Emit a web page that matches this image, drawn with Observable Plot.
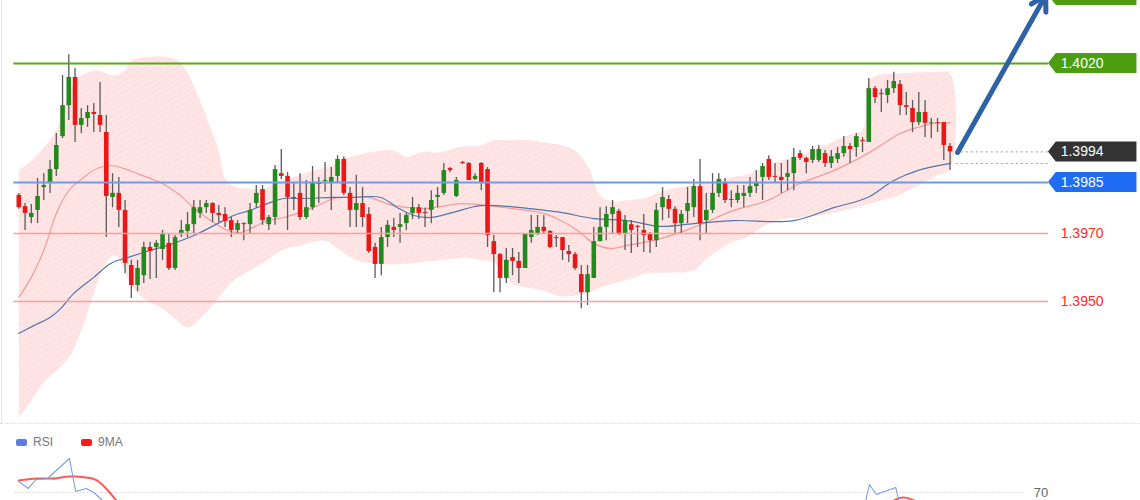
<!DOCTYPE html>
<html>
<head>
<meta charset="utf-8">
<script src="https://cdn.jsdelivr.net/npm/d3@7"></script>
<script src="https://cdn.jsdelivr.net/npm/@observablehq/plot@0.6"></script>
<style>
html, body { margin: 0; padding: 0; background: #fff; overflow: hidden; }
body { width: 1140px; height: 500px; font-family: "Liberation Sans", Arial, sans-serif; }
#main { position: relative; height: 423px; }
#main::before { content: ""; position: absolute; left: 1px; top: 0; width: 1px; height: 423px; background: #e6e6e6; z-index: 2; }
#rsiWrap { position: relative; border-top: 1px dotted #dcdcdc; }
#legend { position: absolute; left: 16px; top: 10px; height: 16px; display: flex; align-items: center; font-size: 12px; color: #777; z-index: 2; }
#legend .sw { display: inline-block; width: 11px; height: 7px; border-radius: 2px; margin-right: 6px; }
#legend .item { display: inline-flex; align-items: center; margin-right: 28px; }
svg { display: block; }
</style>
</head>
<body>
<svg width="0" height="0" style="position:absolute">
  <defs>
    <pattern id="bandHatch" width="5" height="5" patternUnits="userSpaceOnUse" patternTransform="rotate(-30)">
      <circle cx="1" cy="1" r="0.5" fill="#f6c8c8"></circle>
      <circle cx="3.5" cy="1" r="0.5" fill="#f6c8c8"></circle>
    </pattern>
  </defs>
</svg>
<div id="main"></div>
<div id="rsiWrap">
  <div id="legend">
    <span class="item"><span class="sw" style="background:#5b7fe0"></span>RSI</span>
    <span class="item"><span class="sw" style="background:#ff1a1a"></span>9MA</span>
  </div>
  <div id="rsi"></div>
</div>
<script>
// ---------------- DATA ----------------
const candleOpen = [1.39812,1.39779,1.39747,1.39768,1.39835,1.39847,1.39888,1.39985,1.40076,1.40159,
1.40018,1.40038,1.40056,1.40047,1.39997,1.39806,1.39818,1.39768,1.39606,1.39547,
1.39576,1.39659,1.39659,1.39653,1.39671,1.39597,1.39700,1.39706,1.39726,1.39759,
1.39776,1.39788,1.39759,1.39756,1.39738,1.39709,1.39729,1.39726,1.39788,1.39829,
1.39726,1.39747,1.39876,1.39868,1.39803,1.39818,1.39747,1.39776,1.39847,1.39853,
1.39847,1.39868,1.39918,1.39818,1.39768,1.39788,1.39756,1.39659,1.39609,1.39688,
1.39718,1.39718,1.39729,1.39759,1.39776,1.39762,1.39768,1.39806,1.39818,1.39891,
1.39809,1.39909,1.39906,1.39859,1.39906,1.39888,1.39676,1.39638,1.39568,1.39629,
1.39618,1.39597,1.39688,1.39700,1.39718,1.39706,1.39688,1.39688,1.39647,1.39638,
1.39579,1.39526,1.39568,1.39676,1.39718,1.39756,1.39765,1.39700,1.39726,1.39721,
1.39709,1.39697,1.39679,1.39776,1.39800,1.39771,1.39729,1.39765,1.39776,1.39838,
1.39738,1.39768,1.39818,1.39847,1.39797,1.39797,1.39809,1.39818,1.39838,1.39865,
1.39918,1.39868,1.39865,1.39865,1.39876,1.39935,1.39921,1.39915,1.39915,1.39935,
1.39906,1.39918,1.39935,1.39956,1.39953,1.39974,1.39968,1.40126,1.40112,1.40106,
1.40126,1.40138,1.40076,1.40068,1.40026,1.40056,1.40024,1.40026,1.40026,1.39956];

const candleHigh = [1.39818,1.39788,1.39785,1.39862,1.39876,1.39915,1.39994,1.40165,1.40226,1.40185,
1.40068,1.40076,1.40082,1.40144,1.40047,1.39876,1.39865,1.39797,1.39621,1.39621,
1.39674,1.39674,1.39679,1.39709,1.39697,1.39694,1.39738,1.39762,1.39797,1.39797,
1.39797,1.39791,1.39782,1.39776,1.39747,1.39738,1.39732,1.39788,1.39841,1.39841,
1.39753,1.39900,1.39947,1.39879,1.39847,1.39876,1.39856,1.39897,1.39865,1.39909,
1.39894,1.39929,1.39926,1.39835,1.39871,1.39835,1.39776,1.39671,1.39718,1.39738,
1.39744,1.39759,1.39759,1.39806,1.39785,1.39774,1.39826,1.39835,1.39906,1.39894,
1.39865,1.39912,1.39909,1.39876,1.39909,1.39894,1.39694,1.39641,1.39656,1.39656,
1.39644,1.39700,1.39753,1.39753,1.39753,1.39709,1.39694,1.39688,1.39665,1.39644,
1.39606,1.39606,1.39718,1.39776,1.39779,1.39797,1.39771,1.39753,1.39738,1.39724,
1.39756,1.39703,1.39788,1.39835,1.39812,1.39779,1.39768,1.39835,1.39859,1.39918,
1.39818,1.39876,1.39876,1.39862,1.39826,1.39841,1.39841,1.39865,1.39885,1.39906,
1.39929,1.39906,1.39906,1.39915,1.39950,1.39944,1.39924,1.39956,1.39959,1.39944,
1.39944,1.39953,1.39985,1.39965,1.39994,1.39982,1.40156,1.40132,1.40124,1.40150,
1.40174,1.40150,1.40115,1.40091,1.40115,1.40091,1.40038,1.40038,1.40026,1.39965];

const candleLow = [1.39771,1.39709,1.39729,1.39729,1.39797,1.39818,1.39868,1.39979,1.40032,1.39968,
1.39994,1.40012,1.39997,1.39997,1.39688,1.39776,1.39718,1.39582,1.39509,1.39529,
1.39553,1.39565,1.39568,1.39621,1.39591,1.39591,1.39688,1.39688,1.39700,1.39744,
1.39759,1.39732,1.39732,1.39718,1.39688,1.39700,1.39679,1.39700,1.39774,1.39724,
1.39709,1.39724,1.39859,1.39709,1.39768,1.39738,1.39741,1.39768,1.39788,1.39821,
1.39768,1.39847,1.39812,1.39718,1.39718,1.39718,1.39641,1.39568,1.39576,1.39659,
1.39688,1.39671,1.39709,1.39741,1.39741,1.39718,1.39729,1.39776,1.39812,1.39879,
1.39806,1.39903,1.39856,1.39856,1.39826,1.39659,1.39526,1.39526,1.39553,1.39576,
1.39553,1.39597,1.39671,1.39694,1.39700,1.39656,1.39659,1.39621,1.39615,1.39591,
1.39479,1.39488,1.39568,1.39676,1.39679,1.39700,1.39694,1.39650,1.39641,1.39659,
1.39644,1.39641,1.39659,1.39738,1.39744,1.39700,1.39700,1.39729,1.39747,1.39679,
1.39700,1.39759,1.39806,1.39788,1.39776,1.39788,1.39776,1.39806,1.39818,1.39797,
1.39856,1.39847,1.39818,1.39826,1.39826,1.39915,1.39876,1.39906,1.39909,1.39894,
1.39891,1.39906,1.39924,1.39906,1.39924,1.39938,1.39968,1.40082,1.40056,1.40082,
1.40112,1.40047,1.40047,1.39997,1.40018,1.39982,1.39979,1.39997,1.39915,1.39885];

const candleClose = [1.39776,1.39759,1.39759,1.39809,1.39841,1.39888,1.39959,1.40076,1.40159,1.40018,
1.40038,1.40056,1.40050,1.40018,1.39809,1.39818,1.39768,1.39612,1.39547,1.39597,
1.39659,1.39647,1.39671,1.39697,1.39597,1.39688,1.39709,1.39726,1.39776,1.39776,
1.39788,1.39759,1.39753,1.39735,1.39709,1.39729,1.39726,1.39768,1.39818,1.39738,
1.39747,1.39888,1.39868,1.39806,1.39806,1.39747,1.39776,1.39847,1.39844,1.39856,
1.39865,1.39918,1.39818,1.39768,1.39788,1.39747,1.39647,1.39609,1.39688,1.39724,
1.39709,1.39726,1.39753,1.39776,1.39759,1.39759,1.39797,1.39812,1.39885,1.39885,
1.39856,1.39906,1.39856,1.39868,1.39850,1.39694,1.39638,1.39568,1.39621,1.39618,
1.39597,1.39697,1.39709,1.39718,1.39706,1.39659,1.39685,1.39650,1.39638,1.39597,
1.39526,1.39579,1.39676,1.39718,1.39756,1.39776,1.39700,1.39738,1.39709,1.39718,
1.39694,1.39679,1.39768,1.39806,1.39771,1.39729,1.39756,1.39788,1.39838,1.39729,
1.39768,1.39818,1.39859,1.39797,1.39800,1.39818,1.39818,1.39838,1.39847,1.39897,
1.39865,1.39865,1.39856,1.39876,1.39924,1.39921,1.39909,1.39947,1.39947,1.39906,
1.39926,1.39935,1.39956,1.39947,1.39985,1.39971,1.40126,1.40100,1.40109,1.40126,
1.40147,1.40076,1.40071,1.40026,1.40056,1.40024,1.40026,1.40024,1.39959,1.39940];

// Bollinger band edges (read at candle positions)
const upperBandIdx = [1,3,5,7,8,9,11,13.5,15,16,18,19,21,25,27,30,32,33,34,35.5,38,40.5,42,45,47,50,52.5,57,61,63,66,68,72,75,77,80,82,85,88,90,92,93,94,96,98,101,104,109,113,115,118,120,123,126,129,131,134,136,137,139,142,145,148,150];
const upperBandVal = [1.39885,1.39915,1.39953,1.40003,1.40053,1.40112,1.40165,1.40179,1.40171,1.40165,1.40179,1.40209,1.40218,1.40218,1.40200,1.40091,1.39994,1.39944,1.39862,1.39838,1.39832,1.39832,1.39847,1.39865,1.39879,1.39894,1.39915,1.39938,1.39944,1.39926,1.39941,1.39938,1.39956,1.39959,1.39974,1.39974,1.39976,1.39968,1.39959,1.39944,1.39900,1.39856,1.39812,1.39794,1.39797,1.39803,1.39824,1.39844,1.39856,1.39865,1.39876,1.39891,1.39915,1.39929,1.39953,1.39968,1.39991,1.40003,1.40150,1.40168,1.40171,1.40174,1.40174,1.40171];
const lowerBandIdx = [1,3,5,7,9,11,13,14,15,16,17,19,21,24,26,28,30,33,35,38,40,43,46,50,52,55,60,65,70,73,75,77,79,80,85,88,91,93,95,98,100,101,105,109,111,113,115,117,121,124,126,131,136,139,142,145,148,150];
const lowerBandVal = [1.39159,1.39209,1.39262,1.39297,1.39335,1.39415,1.39524,1.39576,1.39615,1.39635,1.39626,1.39547,1.39509,1.39479,1.39450,1.39424,1.39450,1.39512,1.39556,1.39591,1.39612,1.39650,1.39665,1.39679,1.39656,1.39621,1.39609,1.39615,1.39624,1.39629,1.39621,1.39615,1.39571,1.39553,1.39532,1.39515,1.39521,1.39532,1.39547,1.39562,1.39574,1.39582,1.39585,1.39591,1.39626,1.39650,1.39674,1.39685,1.39729,1.39744,1.39747,1.39759,1.39782,1.39797,1.39815,1.39841,1.39871,1.39891];

// Moving averages
const fastMaIdx = [1,3,5,7,9,11.4,13.5,15.7,17.8,20,22,24,26.4,29,31.7,34.4,36.5,38.5,40.8,43.4,46,48.8,51.4,54,57,61,66.4,71.7,76,79.7,85,87.7,90.4,93,95.7,98.4,103.7,109,115.4,120.8,126,131.4,136.8,139.4,142,144.8,147.4,150];
const fastMaVal = [1.39512,1.39571,1.39650,1.39759,1.39826,1.39865,1.39891,1.39900,1.39891,1.39876,1.39862,1.39847,1.39818,1.39776,1.39738,1.39709,1.39703,1.39718,1.39738,1.39747,1.39762,1.39782,1.39803,1.39806,1.39806,1.39782,1.39774,1.39788,1.39782,1.39774,1.39759,1.39738,1.39709,1.39671,1.39656,1.39665,1.39685,1.39718,1.39768,1.39797,1.39847,1.39885,1.39935,1.39965,1.39994,1.40012,1.40024,1.40026];
const slowMaIdx = [1,3.4,6,7.7,9.8,13,15.7,18.4,22,24.8,29,32.8,35.4,38,40.8,43.4,46,51.4,54,58.9,61.6,64.2,66.9,70.5,74.9,82.4,87.7,93,98.4,103.7,109,115.4,125,131.4,136.8,141,144.8,150];
const slowMaVal = [1.39406,1.39429,1.39453,1.39479,1.39524,1.39571,1.39612,1.39629,1.39650,1.39665,1.39694,1.39729,1.39753,1.39768,1.39788,1.39803,1.39803,1.39806,1.39806,1.39806,1.39776,1.39753,1.39747,1.39762,1.39782,1.39774,1.39762,1.39744,1.39738,1.39721,1.39729,1.39738,1.39738,1.39776,1.39806,1.39856,1.39885,1.39906];

// Key levels
const levelPrices = [1.4040, 1.4020, 1.3985, 1.3970, 1.3950];
const levelRoles  = ["target", "resistance", "pivot", "support", "support"];
const levelLabels = ["", "1.4020", "1.3985", "1.3970", "1.3950"];
const closeLabel = "1.3994";

// Forecast arrow: from last close toward the target
const forecastFrom = {i: 151.2, price: 1.39938};
const forecastTo   = {i: 165.3, price: 1.4040};

// RSI panel
const rsiIdx = [1,2.5,3.8,5.6,9.1,10.1,11.8,13,14.4,15.5,135.5,136.5,137.1,138.2,141.3,141.8,142.8];
const rsiVal = [77.9,72.9,79.3,80,94.3,70.7,72.9,70,64.3,55,50,64.3,75.7,68.6,73.6,64.3,50];
const rsiMaIdx = [1,3.8,6.6,9.1,11.8,13.5,16.6,18,139.5,141,142.4,144.2,146];
const rsiMaVal = [78.6,80,80,81.4,80.7,78.6,64.3,55,55,64.3,66.4,64.3,58];
const rsiLevel = 70;

// ---------------- BUILD ----------------
const candles = candleOpen.map((o, k) => ({i: k + 1, open: o, high: candleHigh[k], low: candleLow[k], close: candleClose[k]}));
const upper = upperBandIdx.map((i, k) => ({i, v: upperBandVal[k]}));
const lower = lowerBandIdx.map((i, k) => ({i, v: lowerBandVal[k]}));
const bandPoly = [...upper, ...lower.slice().reverse()];
const fastMa = fastMaIdx.map((i, k) => ({i, v: fastMaVal[k]}));
const slowMa = slowMaIdx.map((i, k) => ({i, v: slowMaVal[k]}));
const levels = levelPrices.map((p, k) => ({price: p, role: levelRoles[k], label: levelLabels[k]}));
const lastClose = candleClose[candleClose.length - 1];
const lastSlow = slowMaVal[slowMaVal.length - 1];

const X_DOMAIN = [-1.928, 180.472];
const LINE_X1 = 0.2, LINE_X2 = 165.75;
const TIP_X = 165.75, BOX_X1 = 167.0, BOX_X2 = 179.9, TEXT_X = 167.7;
const HALF = 10 / 34000;   // half label height in price units

const roleColor = {target: "#56aa16", resistance: "#56aa16", pivot: "#6a9cf2", support: "#ff9c9c"};
const roleBox = {target: "#4c9d10", resistance: "#4c9d10", pivot: "#1f6cf5"};

const boxed = levels.filter(d => roleBox[d.role]).map(d => ({...d, fill: roleBox[d.role]}));
boxed.push({price: lastClose, role: "close", label: closeLabel, fill: "#333333"});
const flagPts = [];
boxed.forEach((d, k) => {
  flagPts.push({z: k, i: TIP_X, y1: d.price, y2: d.price, fill: d.fill});
  flagPts.push({z: k, i: BOX_X1, y1: d.price - HALF, y2: d.price + HALF, fill: d.fill});
  flagPts.push({z: k, i: BOX_X2, y1: d.price - HALF, y2: d.price + HALF, fill: d.fill});
});

const up = "#228a1c", down = "#ea1717";

const main = Plot.plot({
  width: 1140, height: 423,
  marginTop: 0, marginBottom: 0, marginLeft: 0, marginRight: 0,
  x: {domain: X_DOMAIN, axis: null},
  y: {domain: [1.391412, 1.403853], axis: null},
  style: {fontFamily: "Liberation Sans, Arial, sans-serif", background: "#fff", overflow: "hidden"},
  marks: [
    Plot.line(bandPoly, {x: "i", y: "v", fill: "#ffe5e5", stroke: null, curve: "catmull-rom"}),
    Plot.line(bandPoly, {x: "i", y: "v", fill: "url(#bandHatch)", stroke: null, curve: "catmull-rom"}),
    Plot.line(fastMa, {x: "i", y: "v", stroke: "#f59a9a", strokeWidth: 1.2, curve: "catmull-rom"}),
    Plot.line(slowMa, {x: "i", y: "v", stroke: "#4f77ad", strokeWidth: 1.2, curve: "catmull-rom"}),
    Plot.ruleX(candles, {x: "i", y1: "low", y2: "high", stroke: "#5a5a5a", strokeWidth: 1.3}),
    Plot.ruleX(candles, {x: "i", y1: "open", y2: "close", stroke: d => d.close >= d.open ? up : down, strokeWidth: 4.6}),
    Plot.ruleY(levels, {y: "price", x1: LINE_X1, x2: LINE_X2, stroke: d => roleColor[d.role], strokeWidth: d => d.role === "support" ? 1.5 : 2}),
    Plot.ruleY([lastClose], {x1: 151, x2: LINE_X2, stroke: "#9a9a9a", strokeDasharray: "2,3"}),
    Plot.ruleY([lastSlow], {x1: 151, x2: LINE_X2, stroke: "#7f9fe0", strokeDasharray: "2,3"}),
    Plot.areaY(flagPts, {x: "i", y1: "y1", y2: "y2", z: "z", fill: d => d.fill, curve: "linear"}),
    Plot.text(boxed.filter(d => d.label), {x: TEXT_X, y: "price", text: "label", fill: "#fff", fontSize: 14, textAnchor: "start"}),
    Plot.text(levels.filter(d => d.role === "support"), {x: TEXT_X, y: "price", text: "label", fill: "#ff2a2a", fontSize: 14, textAnchor: "start"}),
    Plot.arrow([{}], {x1: forecastFrom.i, y1: forecastFrom.price, x2: forecastTo.i, y2: forecastTo.price, stroke: "#2e62a5", strokeWidth: 5, headLength: 5, headAngle: 60})
  ]
});
document.getElementById("main").appendChild(main);

const rsiSeries = rsiIdx.map((i, k) => ({i, v: rsiVal[k]}));
const rsiMa = rsiMaIdx.map((i, k) => ({i, v: rsiMaVal[k]}));
const rsi = Plot.plot({
  width: 1140, height: 180,
  marginTop: 0, marginBottom: 0, marginLeft: 0, marginRight: 0,
  x: {domain: X_DOMAIN, axis: null},
  y: {domain: [0, 100], range: [166, 26], axis: null},
  style: {fontFamily: "Liberation Sans, Arial, sans-serif", background: "#fff"},
  marks: [
    Plot.ruleY([rsiLevel], {x1: 0.4, x2: 161.8, stroke: "#c4c4c4", strokeDasharray: "1,2"}),
    Plot.text([rsiLevel], {x: 163.4, y: d => d, text: d => String(d), fill: "#666", fontSize: 13, textAnchor: "start"}),
    Plot.line(rsiMa, {x: "i", y: "v", stroke: "#ff3b3b", strokeOpacity: 0.85, strokeWidth: 2, curve: "catmull-rom"}),
    Plot.line(rsiSeries, {x: "i", y: "v", stroke: "#7f9ce6", strokeWidth: 1.1})
  ]
});
document.getElementById("rsi").appendChild(rsi);
</script>
</body>
</html>
